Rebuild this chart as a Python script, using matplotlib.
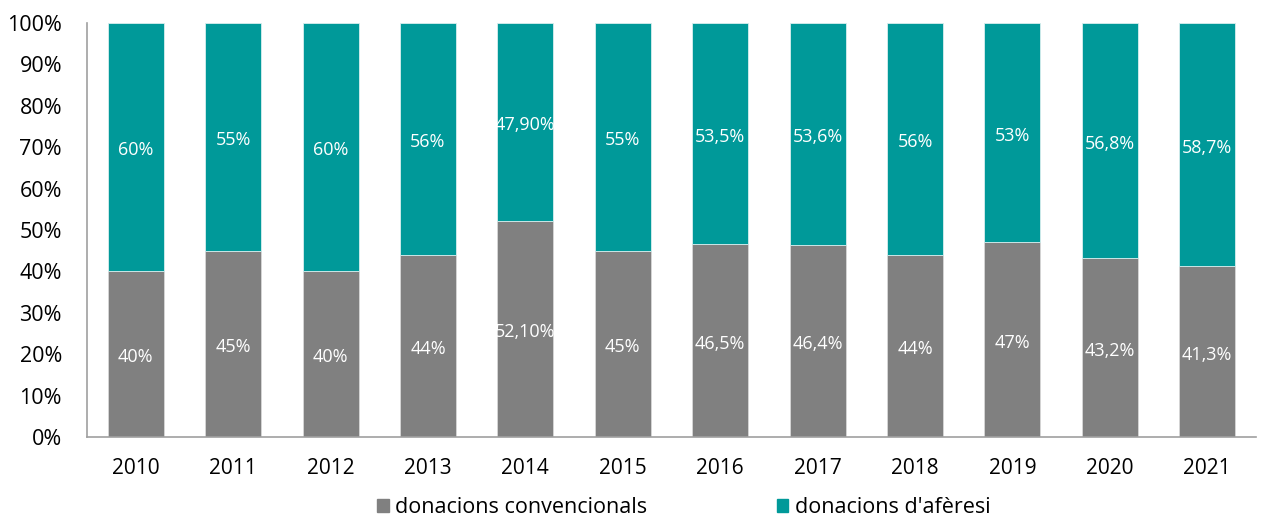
import matplotlib.pyplot as plt
from matplotlib.patches import Patch
from matplotlib.transforms import ScaledTranslation

plt.rcParams['font.family'] = ['Open Sans', 'DejaVu Sans']

years = ['2010', '2011', '2012', '2013', '2014', '2015', '2016', '2017', '2018', '2019', '2020', '2021']
convencionals = [40, 45, 40, 44, 52.1, 45, 46.5, 46.4, 44, 47, 43.2, 41.3]
aferesi = [60, 55, 60, 56, 47.9, 55, 53.5, 53.6, 56, 53, 56.8, 58.7]
conv_labels = ['40%', '45%', '40%', '44%', '52,10%', '45%', '46,5%', '46,4%', '44%', '47%', '43,2%', '41,3%']
afer_labels = ['60%', '55%', '60%', '56%', '47,90%', '55%', '53,5%', '53,6%', '56%', '53%', '56,8%', '58,7%']

grey = '#808080'
teal = '#009999'

fig = plt.figure(figsize=(12.64, 5.21), dpi=100)
ax = fig.add_axes([87 / 1264, 84 / 521, 1169 / 1264, 414 / 521])

x = range(len(years))
w = 0.575
ax.bar(x, convencionals, w, color=grey, edgecolor='#d8d8d8', linewidth=0.6)
ax.bar(x, aferesi, w, bottom=convencionals, color=teal, edgecolor='#d8eeee', linewidth=0.6)

# labels sit a few pixels below the segment centre in the original
shift = ax.transData + ScaledTranslation(0, -3 / 100, fig.dpi_scale_trans)
for i in x:
    ax.text(i, convencionals[i] / 2, conv_labels[i], ha='center', va='center',
            color='white', fontsize=13, transform=shift)
    ax.text(i, convencionals[i] + aferesi[i] / 2, afer_labels[i], ha='center', va='center',
            color='white', fontsize=13, transform=shift)

ax.set_xlim(-0.5, len(years) - 0.5)
ax.set_ylim(0, 100)
ax.set_yticks(range(0, 101, 10))
ax.set_yticklabels([f'{v}%' for v in range(0, 101, 10)], fontsize=15.5)
ax.set_xticks(list(x))
ax.set_xticklabels(years, fontsize=15)
ax.tick_params(axis='y', length=0, pad=18)
ax.tick_params(axis='x', length=0, pad=15)

for s in ['top', 'right']:
    ax.spines[s].set_visible(False)
ax.spines['left'].set_color('#a0a0a0')
ax.spines['bottom'].set_color('#a0a0a0')
ax.spines['left'].set_linewidth(1.2)
ax.spines['bottom'].set_linewidth(1.2)

handles = [Patch(color=grey, label='donacions convencionals'),
           Patch(color=teal, label="donacions d'afèresi")]
fig.legend(handles=handles, loc='center', bbox_to_anchor=(0.541, 0.025), ncol=2,
           frameon=False, fontsize=15.5, handlelength=0.55, handleheight=0.55,
           handletextpad=0.3, columnspacing=6, borderpad=0)

fig.savefig('out.png', dpi=100)
